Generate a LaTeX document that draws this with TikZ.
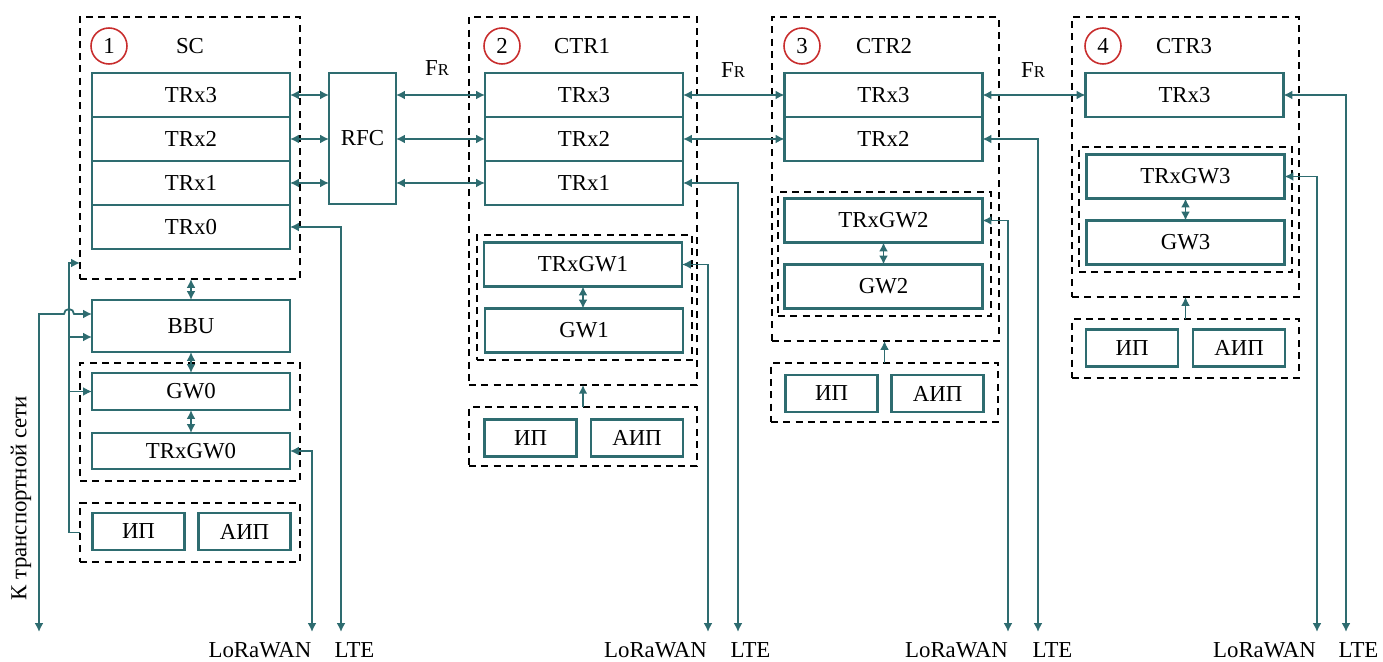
\documentclass[tikz,border=0pt]{standalone}
\usepackage{fontspec}
\setmainfont{Liberation Serif}
\usetikzlibrary{arrows.meta,positioning}
\definecolor{petrol}{RGB}{46,108,112}
\definecolor{ringred}{RGB}{200,45,45}
\newcommand{\freqR}{F{\fontsize{9.5}{11}\selectfont R}}

\begin{document}
\begin{tikzpicture}[x=0.02cm, y=-0.02cm, font=\fontsize{13}{15}\selectfont]
\tikzset{ >={Latex[length=5pt,width=5pt]},
  blk/.style={draw=petrol, line width=1.5pt, minimum width=3.96cm, minimum height=0.88cm, inner sep=0pt, outer sep=0pt},
  pwr/.style={blk, minimum width=1.84cm, minimum height=0.74cm},
  grp/.style={draw, line width=0.7pt, dash pattern=on 4pt off 3pt, inner sep=0pt, outer sep=0pt},
  lnk/.style={draw=petrol, color=petrol, line width=1pt},
  num/.style={draw=ringred, circle, line width=0.9pt, minimum size=0.72cm, inner sep=0pt},
}

\useasboundingbox (0,0) rectangle (1383,662);

%\draw [lightgray, dashed](0,0) grid[step=50] (1383,662);

%%% Blocks

% SC
\node [grp, minimum width=4.4cm, minimum height=5.24cm] (SCgrp) at (190,148) {};
\node [num] (n1) at (109,46) {1};
\node (SCname) at (190,46) {SC};
\node [blk] (SCt3) at (191,95) {TRx3};
\node [blk, below=0pt of SCt3] (SCt2) {TRx2};
\node [blk, below=0pt of SCt2] (SCt1) {TRx1};
\node [blk, below=0pt of SCt1] (SCt0) {TRx0};
\node [blk, minimum height=1.04cm] (BBU) at (191,326) {BBU};
\node [grp, minimum width=4.4cm, minimum height=2.36cm] (SCgw) at (190,422) {};
\node [blk, minimum height=0.74cm] (GW0) at (191,391.5) {GW0};
\node [blk, minimum height=0.72cm] (TRxGW0) at (191,451) {TRxGW0};
\node [grp, minimum width=4.4cm, minimum height=1.18cm] (SCpwr) at (190,532.5) {};
\node [pwr] (SCip) at (138.5,531.5) {ИП};
\node [pwr] (SCaip) at (244.5,531.5) {АИП};

% RFC
\node [blk, minimum width=1.34cm, minimum height=2.62cm] (RFC) at (362.5,138.5) {RFC};

% CTR1
\node [grp, minimum width=4.56cm, minimum height=7.36cm] (C1grp) at (583,201) {};
\node [num] (n2) at (502,46) {2};
\node (C1name) at (582,46) {CTR1};
\node [blk] (C1t3) at (584,95) {TRx3};
\node [blk, below=0pt of C1t3] (C1t2) {TRx2};
\node [blk, below=0pt of C1t2] (C1t1) {TRx1};
\node [grp, minimum width=4.3cm, minimum height=2.5cm] (C1gw) at (584.5,297.5) {};
\node [blk] (TRxGW1) at (583,264.5) {TRxGW1};
\node [blk] (GW1) at (584,330.5) {GW1};
\node [grp, minimum width=4.56cm, minimum height=1.18cm] (C1pwr) at (583,436.5) {};
\node [pwr] (C1ip) at (530.5,438) {ИП};
\node [pwr] (C1aip) at (637,438) {АИП};

% CTR2
\node [grp, minimum width=4.54cm, minimum height=6.48cm] (C2grp) at (885.5,179) {};
\node [num] (n3) at (802,46) {3};
\node (C2name) at (884,46) {CTR2};
\node [blk] (C2t3) at (883.5,95) {TRx3};
\node [blk, below=0pt of C2t3] (C2t2) {TRx2};
\node [grp, minimum width=4.26cm, minimum height=2.48cm] (C2gw) at (884.5,254) {};
\node [blk] (TRxGW2) at (883.5,220.5) {TRxGW2};
\node [blk] (GW2) at (883.5,286.5) {GW2};
\node [grp, minimum width=4.54cm, minimum height=1.18cm] (C2pwr) at (884.5,392.5) {};
\node [pwr] (C2ip) at (831.5,393.5) {ИП};
\node [pwr] (C2aip) at (937.5,393.5) {АИП};

% CTR3
\node [grp, minimum width=4.54cm, minimum height=5.6cm] (C3grp) at (1185.5,157) {};
\node [num] (n4) at (1103,46) {4};
\node (C3name) at (1184,46) {CTR3};
\node [blk] (C3t3) at (1184.5,95) {TRx3};
\node [grp, minimum width=4.26cm, minimum height=2.5cm] (C3gw) at (1185.5,209.5) {};
\node [blk] (TRxGW3) at (1185.5,176.5) {TRxGW3};
\node [blk] (GW3) at (1185.5,242.5) {GW3};
\node [grp, minimum width=4.54cm, minimum height=1.18cm] (C3pwr) at (1185.5,348.5) {};
\node [pwr] (C3ip) at (1132,348) {ИП};
\node [pwr] (C3aip) at (1239,348) {АИП};

%%% Lines

% SC <-> RFC
\draw [lnk, <->] (SCt3.east) -- (SCt3.east -| RFC.west);
\draw [lnk, <->] (SCt2.east) -- (SCt2.east -| RFC.west);
\draw [lnk, <->] (SCt1.east) -- (SCt1.east -| RFC.west);

% RFC <-> CTR1
\draw [lnk, <->] (RFC.east |- C1t3.west) -- (C1t3.west);
\draw [lnk, <->] (RFC.east |- C1t2.west) -- (C1t2.west);
\draw [lnk, <->] (RFC.east |- C1t1.west) -- (C1t1.west);
\node (fr1) at (437,68) {\freqR};

% CTR1 <-> CTR2 <-> CTR3
\draw [lnk, <->] (C1t3.east) -- (C2t3.west);
\draw [lnk, <->] (C1t2.east) -- (C2t2.west);
\node (fr2) at (733,70) {\freqR};
\draw [lnk, <->] (C2t3.east) -- (C3t3.west);
\node (fr3) at (1033,70) {\freqR};

% inside the blocks
\draw [lnk, <->] (BBU.north) -- (BBU.north |- SCgrp.south);
\draw [lnk, <->] (BBU.south) -- (GW0.north);
\draw [lnk, <->] (GW0.south) -- (TRxGW0.north);
\draw [lnk, <->] (TRxGW1.south) -- (TRxGW1.south |- GW1.north);
\draw [lnk, <->] (TRxGW2.south) -- (GW2.north);
\draw [lnk, <->] (TRxGW3.south) -- (GW3.north);

% power -> blocks
\coordinate (busT) at (69,263);
\coordinate (busB) at (69,532.5);
\coordinate (tapBBU) at (69,337);
\coordinate (tapGW) at (69,391.5);
\draw [lnk, ->] (SCpwr.west) -- (busB) -- (busT) -- (busT -| SCgrp.west);
\draw [lnk, ->] (tapBBU) -- (tapBBU -| BBU.west);
\draw [lnk, ->] (tapGW) -- (GW0.west);
\draw [lnk, ->] (C1pwr.north) -- (C1grp.south);
\draw [lnk, ->] (C2pwr.north) -- (C2pwr.north |- C2grp.south);
\draw [lnk, ->] (C3pwr.north) -- (C3grp.south);

% transport network
\coordinate (net) at (39,632);
\coordinate (hop) at (64,314);
\draw [lnk, <->] (net) |- (hop) arc[start angle=180, end angle=0, radius=0.1cm] -- (hop -| BBU.west);
\node [rotate=90] (netlbl) at (21,498) {К транспортной сети};

% LoRaWAN / LTE
\coordinate (lora0) at (312,632);
\coordinate (lte0) at (341,632);
\coordinate (lora1) at (708,632);
\coordinate (lte1) at (738,632);
\coordinate (lora2) at (1008,632);
\coordinate (lte2) at (1038,632);
\coordinate (lora3) at (1317,632);
\coordinate (lte3) at (1346,632);
\draw [lnk, <->] (TRxGW0.east) -| (lora0);
\draw [lnk, <->] (SCt0.east) -| (lte0);
\draw [lnk, <->] (TRxGW1.east) -| (lora1);
\draw [lnk, <->] (C1t1.east) -| (lte1);
\draw [lnk, <->] (TRxGW2.east) -| (lora2);
\draw [lnk, <->] (C2t2.east) -| (lte2);
\draw [lnk, <->] (TRxGW3.east) -| (lora3);
\draw [lnk, <->] (C3t3.east) -| (lte3);
\node (lora0txt) at (260,650) {LoRaWAN};
\node (lte0txt) at (354.5,650) {LTE};
\node (lora1txt) at (655.5,650) {LoRaWAN};
\node (lte1txt) at (750.5,650) {LTE};
\node (lora2txt) at (956.5,650) {LoRaWAN};
\node (lte2txt) at (1052.5,650) {LTE};
\node (lora3txt) at (1264.5,650) {LoRaWAN};
\node (lte3txt) at (1358.5,650) {LTE};

\end{tikzpicture}
\end{document}
